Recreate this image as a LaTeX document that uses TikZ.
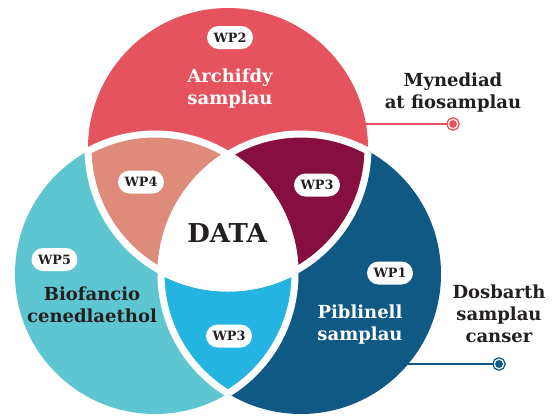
\documentclass[tikz,border=0pt]{standalone}
\usepackage{fontspec}
\setmainfont{DejaVu Serif}
\usetikzlibrary{positioning}

\definecolor{archred}{HTML}{E5535F}
\definecolor{wpsalmon}{HTML}{DE8B7C}
\definecolor{wpmaroon}{HTML}{870F3F}
\definecolor{bioteal}{HTML}{5EC6D0}
\definecolor{pipeblue}{HTML}{105985}
\definecolor{wplight}{HTML}{24B4E2}
\definecolor{inkdark}{HTML}{231F20}

\newcommand\venrad{140pt}

\begin{document}
\begin{tikzpicture}[x=1pt,y=-1pt,
  wp/.style={fill=white, rounded corners=11.5pt, minimum width=46pt, minimum height=23pt,
    inner sep=0pt, text=inkdark, font=\bfseries\fontsize{12.8}{12.8}\selectfont},
  lab/.style={align=center, inner sep=0pt, font=\bfseries\fontsize{18}{22}\selectfont},
  gap/.style={draw=white, line width=7pt},
  dotend/.style={circle, inner sep=0pt, minimum size=9.5pt, line width=1.4pt,
    double=white, double distance=1.2pt},
  lead/.style={line width=2.3pt}]
\useasboundingbox (0,0) rectangle (555,416);
\coordinate (ct) at (228,148);
\coordinate (cl) at (155,274);
\coordinate (cr) at (301,274);

% circles
\fill[archred] (ct) circle (\venrad);
\fill[bioteal] (cl) circle (\venrad);
\fill[pipeblue] (cr) circle (\venrad);
% overlaps
\begin{scope}
  \clip (ct) circle (\venrad);
  \fill[wpsalmon] (cl) circle (\venrad);
  \fill[wpmaroon] (cr) circle (\venrad);
\end{scope}
\begin{scope}
  \clip (cl) circle (\venrad);
  \fill[wplight] (cr) circle (\venrad);
\end{scope}
\begin{scope}
  \clip (ct) circle (\venrad);
  \clip (cl) circle (\venrad);
  \fill[white] (cr) circle (\venrad);
\end{scope}
% white gaps
\begin{scope}
  \clip (ct) circle (\venrad);
  \draw[gap] (cl) circle (\venrad) (cr) circle (\venrad);
\end{scope}
\begin{scope}
  \clip (cl) circle (\venrad);
  \draw[gap] (ct) circle (\venrad) (cr) circle (\venrad);
\end{scope}
\begin{scope}
  \clip (cr) circle (\venrad);
  \draw[gap] (ct) circle (\venrad) (cl) circle (\venrad);
\end{scope}

% labels
\node[lab, text=white] (archif) at (230,88.5) {Archifdy\\samplau};
\node[lab, text=inkdark] (biofan) at (92,304.5) {Biofancio\\cenedlaethol};
\node[lab, text=white] (piblin) at (360,325) {Piblinell\\samplau};
\node[text=inkdark, font=\bfseries\fontsize{26}{26}\selectfont] (data) at (227,233) {DATA};

\node[wp] (wp2) at (230,37.5) {WP2};
\node[wp] (wp4) at (141,182) {WP4};
\node[wp] (wp3a) at (317,185) {WP3};
\node[wp] (wp5) at (54.5,259.5) {WP5};
\node[wp] (wp3b) at (229,336) {WP3};
\node[wp] (wp1) at (390,273) {WP1};

% leaders
\coordinate (accfrom) at (360,124);
\node[dotend, fill=archred, draw=archred] (accdot) at (453,124) {};
\draw[lead, archred] (accfrom) -- (accdot);
\node[lab, text=inkdark, above=6.6pt of accdot] (access) {Mynediad\\at fiosamplau};

\coordinate (clsfrom) at (402,364);
\node[dotend, fill=pipeblue, draw=pipeblue] (clsdot) at (499,364) {};
\draw[lead, pipeblue] (clsfrom) -- (clsdot);
\node[lab, text=inkdark, above=15.8pt of clsdot] (classif) {Dosbarth\\samplau\\canser};
\end{tikzpicture}
\end{document}
